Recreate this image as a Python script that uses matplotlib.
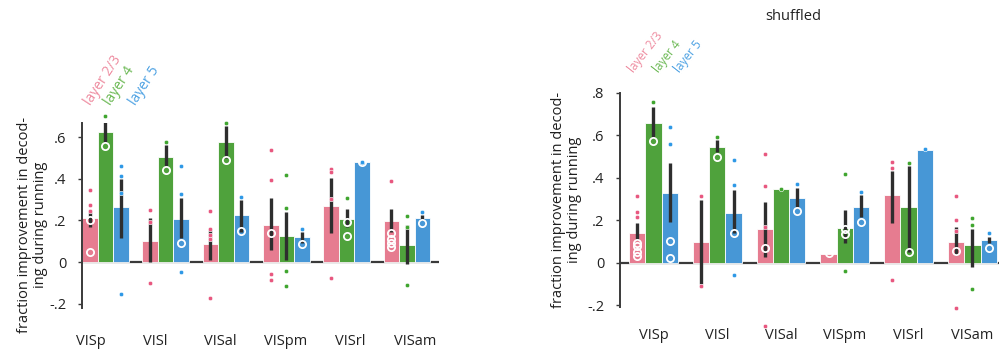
import numpy as np
import matplotlib
matplotlib.use("Agg")
import matplotlib.pyplot as plt

plt.rcParams['font.family'] = ['Open Sans', 'DejaVu Sans']

areas = ["VISp", "VISl", "VISal", "VISpm", "VISrl", "VISam"]
layers = ["layer 2/3", "layer 4", "layer 5"]
nan = np.nan

# ---- running: mean improvement per area ----
run_l23 = [0.21, 0.10, 0.085, 0.18, 0.27, 0.195]
run_l4 = [0.625, 0.505, 0.575, 0.125, 0.207, 0.08]
run_l5 = [0.264, 0.207, 0.226, 0.119, 0.479, 0.21]
run_l23_lo = [0.17, 0.0, 0.01, 0.058, 0.141, 0.146]
run_l23_hi = [0.247, 0.21, 0.16, 0.309, 0.405, 0.256]
run_l4_lo = [0.57, 0.46, 0.50, 0.01, 0.17, -0.01]
run_l4_hi = [0.69, 0.56, 0.654, 0.242, 0.256, 0.176]
run_l5_lo = [0.117, 0.115, 0.146, 0.09, nan, 0.202]
run_l5_hi = [0.40, 0.306, 0.298, 0.143, nan, 0.226]
run_l23_dots = [[0.346, 0.274, 0.245], [0.25, 0.19, -0.103],
                [0.247, 0.159, 0.13, 0.11, -0.173], [0.54, 0.394, -0.058, -0.087],
                [0.449, 0.434, 0.301, -0.079], [0.391]]
run_l23_rings = [[0.2, 0.05], [], [], [0.138], [], [0.138, 0.109, 0.09, 0.074]]
run_l4_dots = [[0.70], [0.575], [0.67], [0.417, 0.258, -0.043, -0.114],
               [0.309], [0.223, 0.17, -0.112]]
run_l4_rings = [[0.556], [0.443], [0.489], [], [0.194, 0.127], []]
run_l5_dots = [[0.463, 0.415, 0.33, -0.152], [0.463, 0.327, -0.05], [0.314],
               [0.159], [0.48], [0.24]]
run_l5_rings = [[], [0.09], [0.15], [0.087], [0.48], [0.189]]

# ---- shuffled ----
shuf_l23 = [0.141, 0.097, 0.159, 0.043, 0.319, 0.096]
shuf_l4 = [0.659, 0.543, 0.347, 0.165, 0.261, 0.083]
shuf_l5 = [0.327, 0.232, 0.303, 0.264, 0.53, 0.107]
shuf_l23_lo = [0.107, -0.1, 0.028, nan, 0.185, 0.036]
shuf_l23_hi = [0.188, 0.295, 0.287, nan, 0.433, 0.17]
shuf_l4_lo = [0.593, 0.52, nan, 0.091, 0.052, -0.022]
shuf_l4_hi = [0.734, 0.58, nan, 0.247, 0.456, 0.158]
shuf_l5_lo = [0.193, 0.14, 0.264, 0.217, nan, 0.091]
shuf_l5_hi = [0.468, 0.34, 0.35, 0.319, nan, 0.122]
shuf_l23_dots = [[0.315, 0.239, 0.217], [0.312, -0.111], [0.511, 0.362, 0.17, -0.296],
                 [], [0.475, 0.447, -0.081], [0.315, 0.2, 0.151, -0.212]]
shuf_l23_rings = [[0.091, 0.079, 0.05, 0.03], [], [0.071], [0.045], [], [0.057]]
shuf_l4_dots = [[0.755], [0.593], [0.347], [0.416, -0.037], [0.471],
                [0.212, 0.179, -0.125]]
shuf_l4_rings = [[0.574], [0.496], [], [0.159, 0.134], [0.05], []]
shuf_l5_dots = [[0.64, 0.56], [0.483, 0.364, -0.058], [0.369], [0.334], [0.535], [0.138]]
shuf_l5_rings = [[0.1, 0.024], [0.138], [0.243], [0.192], [], [0.068]]

bar_colors = ["#E67C90", "#4FA23C", "#4797D6"]
dot_colors = ["#E8577F", "#3FA52E", "#2E98E6"]
text_colors = ["#EE8CA0", "#6CB955", "#4EA2E3"]
err_color = "#2E2E2E"
axis_color = "#3A3A3A"


def draw_panel(ax, means, lows, highs, dots, rings, width):
    x = np.arange(len(areas))
    for k in range(3):
        xs = x + (k - 1) * width
        ax.bar(xs, means[k], width=width, color=bar_colors[k],
               edgecolor="white", linewidth=0.6, zorder=2)
        lo = np.array(lows[k], dtype=float)
        hi = np.array(highs[k], dtype=float)
        ax.vlines(xs, lo, hi, color=err_color, linewidth=2.4, zorder=3)
        for i in range(len(areas)):
            d = dots[k][i]
            ax.plot([xs[i]] * len(d), d, 'o', ms=3.2, color=dot_colors[k],
                    mec="white", mew=0.4, zorder=4, clip_on=False)
            r = rings[k][i]
            ax.plot([xs[i]] * len(r), r, 'o', ms=5.2, mfc="none",
                    mec="white", mew=1.3, zorder=5, clip_on=False)
    ax.axhline(0, color=axis_color, linewidth=1.6, zorder=1)
    for s in ["top", "right", "bottom"]:
        ax.spines[s].set_visible(False)
    ax.spines["left"].set_color(axis_color)
    ax.spines["left"].set_linewidth(1.4)
    ax.tick_params(axis="y", length=3, width=1.0, color=axis_color,
                   labelsize=10.5, pad=8, labelcolor="#222222")
    ax.tick_params(axis="x", length=0, labelsize=10.5, labelcolor="#222222")
    ax.set_ylabel("fraction improvement in decod-\ning during running",
                  fontsize=10.5, linespacing=1.1, color="#1E1E1E")


fig = plt.figure(figsize=(9.99, 3.54), dpi=100)

# running
ax1 = fig.add_axes([0.0821, 0.1305, 0.357, 0.5232])
w1 = 0.257
draw_panel(ax1, [run_l23, run_l4, run_l5],
           [run_l23_lo, run_l4_lo, run_l5_lo],
           [run_l23_hi, run_l4_hi, run_l5_hi],
           [run_l23_dots, run_l4_dots, run_l5_dots],
           [run_l23_rings, run_l4_rings, run_l5_rings], w1)
ax1.set_xlim(-1.5 * w1, 5.525)
ax1.set_ylim(-0.22, 0.67)
ax1.set_yticks([-0.2, 0, 0.2, 0.4, 0.6])
ax1.set_yticklabels(["-.2", "0", ".2", ".4", ".6"])
ax1.set_xticks(np.arange(6) * 1.075 - 0.24)
ax1.set_xticklabels(areas)
ax1.tick_params(axis="x", pad=19)
ax1.yaxis.set_label_coords(-0.095, 0.45)
for k, lab in enumerate(layers):
    ax1.text((k - 1) * w1 + [0.07, 0.145, 0.30][k], 0.74, lab,
             rotation=57, rotation_mode="anchor", ha="left", va="bottom",
             color=text_colors[k], fontsize=10, clip_on=False)

# shuffled
ax2 = fig.add_axes([0.6206, 0.1319, 0.3794, 0.606])
w2 = 0.2555
draw_panel(ax2, [shuf_l23, shuf_l4, shuf_l5],
           [shuf_l23_lo, shuf_l4_lo, shuf_l5_lo],
           [shuf_l23_hi, shuf_l4_hi, shuf_l5_hi],
           [shuf_l23_dots, shuf_l4_dots, shuf_l5_dots],
           [shuf_l23_rings, shuf_l4_rings, shuf_l5_rings], w2)
ax2.set_xlim(-0.524, 5.416)
ax2.set_ylim(-0.21, 0.8)
ax2.set_yticks([-0.2, 0, 0.2, 0.4, 0.6, 0.8])
ax2.set_yticklabels(["-.2", "0", ".2", ".4", ".6", ".8"])
ax2.set_xticks(np.arange(6))
ax2.set_xticklabels(areas)
ax2.tick_params(axis="x", pad=15)
ax2.yaxis.set_label_coords(-0.10, 0.5)
for k, lab in enumerate(layers):
    ax2.text((k - 1) * w2 + [-0.018, 0.119, 0.19][k], 0.883, lab,
             rotation=52, rotation_mode="anchor", ha="left", va="bottom",
             color=text_colors[k], fontsize=8.5, clip_on=False)
fig.text(0.794, 0.952, "shuffled", ha="center", va="center",
         fontsize=10.5, color="#222222")

fig.savefig("out.png", dpi=100)
